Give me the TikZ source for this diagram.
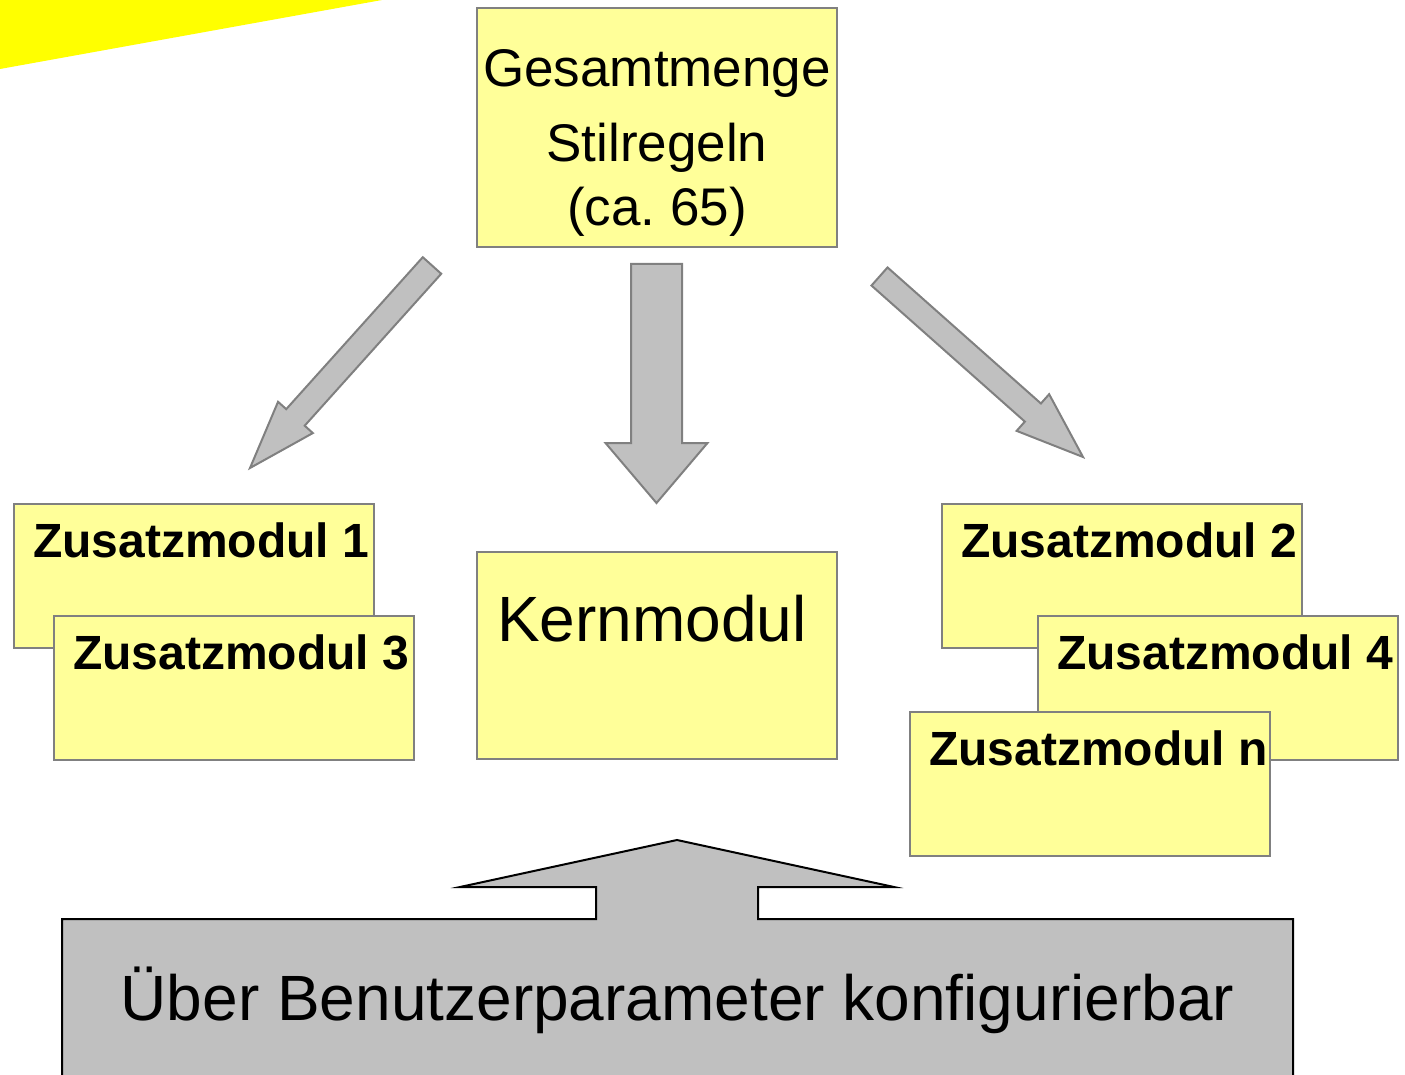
\documentclass[tikz,border=0pt]{standalone}
\usepackage{fontspec}
\setmainfont{Liberation Sans}
\usetikzlibrary{positioning,calc}

\definecolor{notegelb}{HTML}{FFFF99}
\definecolor{pfeilgrau}{HTML}{C0C0C0}
\definecolor{randgrau}{HTML}{808080}
\definecolor{eckgelb}{HTML}{FFFF00}

%% block arrow: tail, tip, half shaft width, half head width, head length
\newcommand{\blockpfeil}[5]{%
  \coordinate (kopf) at ($(#2)!#5!(#1)$);
  \draw[pfeil] ($(#1)!#3!90:(#2)$) -- ($(kopf)!#3!90:(#2)$) -- ($(kopf)!#4!90:(#2)$) -- (#2)
    -- ($(kopf)!#4!-90:(#2)$) -- ($(kopf)!#3!-90:(#2)$) -- ($(#1)!#3!-90:(#2)$) -- cycle;}

\begin{document}
\begin{tikzpicture}[x=1pt,y=-1pt,
    notiz/.style={draw=randgrau,fill=notegelb,line width=2pt,inner sep=0pt,minimum width=360pt},
    modbox/.style={notiz,minimum height=144pt,anchor=north west},
    modtxt/.style={font=\bfseries\fontsize{48}{53}\selectfont,inner sep=0pt,anchor=base west},
    pfeil/.style={draw=randgrau,fill=pfeilgrau,line width=2pt,line join=miter},
    grundform/.style={draw=black,fill=pfeilgrau,line width=2pt,line join=miter}]
    \path[use as bounding box,clip] (0,0) rectangle (1405,1075);

    \fill[eckgelb] (0,0) -- (382,0) -- (0,69) -- cycle;

    %% top and core
    \node[notiz,minimum height=239pt] (gesamt) at (657,127.5) {};
    \node[font=\fontsize{53}{64}\selectfont,align=center,inner sep=0pt,anchor=base] (gesamttxt) at (657,226)
      {Gesamtmenge\\[11pt]Stilregeln\\(ca.~65)};
    \node[notiz,minimum height=207pt,below of=gesamt,node distance=528pt] (kern) {};
    \node[font=\fontsize{64}{70}\selectfont,inner sep=0pt,anchor=base west] (kerntxt)
      at ($(kern.north west)+(21,90)$) {Kernmodul};

    %% modules left
    \node[modbox] (zm1) at (13,503) {};
    \node[modtxt] (zm1txt) at ($(zm1.north west)+(20,54)$) {Zusatzmodul 1};
    \node[modbox] (zm3) at (53,615) {};
    \node[modtxt] (zm3txt) at ($(zm3.north west)+(20,54)$) {Zusatzmodul 3};
    %% modules right
    \node[modbox] (zm2) at (941,503) {};
    \node[modtxt] (zm2txt) at ($(zm2.north west)+(20,54)$) {Zusatzmodul 2};
    \node[modbox] (zm4) at (1037,615) {};
    \node[modtxt] (zm4txt) at ($(zm4.north west)+(20,54)$) {Zusatzmodul 4};
    \node[modbox] (zmn) at (909,711) {};
    \node[modtxt] (zmntxt) at ($(zmn.north west)+(20,54)$) {Zusatzmodul n};

    %% arrows
    \coordinate (links1) at (432,265.5);
    \coordinate (links2) at (250,468);
    \coordinate (mitte1) at (656.5,264);
    \coordinate (mitte2) at (656.5,503);
    \coordinate (rechts1) at (879.5,276.5);
    \coordinate (rechts2) at (1083,457);
    \blockpfeil{links1}{links2}{12.4pt}{23.4pt}{68pt}
    \blockpfeil{mitte1}{mitte2}{25.5pt}{51pt}{60pt}
    \blockpfeil{rechts1}{rechts2}{12.1pt}{24.5pt}{67pt}

    %% user parameters
    \draw[grundform] (62,1090) -- (62,919) -- (596,919) -- (596,887) -- (460,887) -- (677,840)
      -- (894,887) -- (758,887) -- (758,919) -- (1293,919) -- (1293,1090) -- cycle;
    \node[font=\fontsize{64}{70}\selectfont,inner sep=0pt,anchor=base] (param) at (677.5,1020)
      {Über Benutzerparameter konfigurierbar};
\end{tikzpicture}
\end{document}
